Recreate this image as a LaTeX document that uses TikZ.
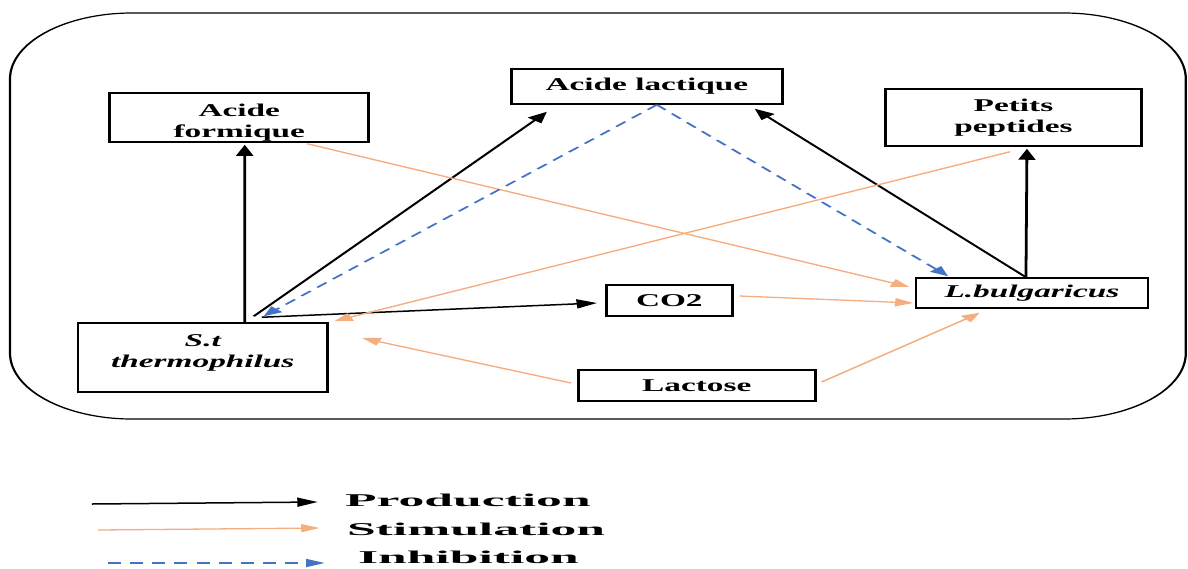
\documentclass[tikz,border=0pt]{standalone}
\usepackage{fontspec}
\setmainfont{Liberation Serif}
\newfontfamily\legendfont{Liberation Serif}[FakeStretch=1.55]
\usetikzlibrary{arrows.meta,calc}
\definecolor{stimorange}{HTML}{F4AE80}
\definecolor{inhibblue}{HTML}{4472C4}
\tikzset{
  box/.style={draw, line width=1.5pt, inner sep=0pt, align=center,
    font=\fontsize{18}{21}\selectfont\bfseries},
  boxit/.style={box, font=\fontsize{18}{21}\selectfont\bfseries\itshape},
  prod/.style={line width=1.5pt, -{Triangle[length=11pt,width=9pt]}},
  stim/.style={stimorange, line width=1.3pt, -{Triangle[length=10pt,width=8pt]}},
  inhib/.style={inhibblue, line width=1.4pt, dash pattern=on 7pt off 5pt,
    -{Triangle[length=10pt,width=8pt]}},
  legendtext/.style={anchor=base west, inner sep=0pt,
    font=\legendfont\fontsize{18}{21}\selectfont\bfseries}
}
\begin{document}
\begin{tikzpicture}
  \useasboundingbox (0,0) rectangle (1188pt,-568pt);
  \begin{scope}[x=0.54pt, y=-1pt, transform canvas={xscale=1.85}]
    % frame
    \draw[line width=1.2pt, rounded corners=66pt] (10,13) rectangle (1187,419);
    % boxes
    \node[box, minimum width=140pt, minimum height=49pt, text height=43pt] (formique) at (239.5,117.5) {Acide\\formique};
    \node[box, minimum width=146.5pt, minimum height=35pt] (lactique) at (647.5,86.5) {Acide lactique};
    \node[box, minimum width=138pt, minimum height=57pt] (peptides) at (1014.5,117.5) {Petits\\peptides};
    \node[boxit, minimum width=125.4pt, minimum height=30pt] (bulg) at (1033,293) {L.bulgaricus};
    \node[box, minimum width=68pt, minimum height=31pt] (co2) at (670,300.5) {CO2};
    \node[box, minimum width=128pt, minimum height=31pt] (lactose) at (697.5,385.5) {Lactose};
    \node[boxit, minimum width=135pt, minimum height=69pt, text depth=12pt] (st) at (203,357.5) {S.t\\thermophilus};
    \coordinate (btop) at ($(bulg.north)+(-6,0)$);
    \coordinate (lbot) at ($(lactique.south)+(10,0)$);
    % production
    \draw[prod] ($(st.north)+(42,0)$) -- ($(formique.south)+(5.5,2)$);
    \draw[prod] ($(st.north)+(51,-6)$) -- ($(lactique.south west)+(37,7)$);
    \draw[prod] ($(st.north)+(59,-5)$) -- ($(co2.west)+(-8,2.5)$);
    \draw[prod] (btop) -- ($(lactique.south east)+(-29,4)$);
    \draw[prod] (btop) -- ($(peptides.south)+(13.5,2)$);
    % stimulation
    \draw[stim] ($(formique.south east)+(-63,1)$) -- ($(bulg.west)+(-5,-6)$);
    \draw[stim] ($(peptides.south)+(-3.5,5)$) -- ($(st.north east)+(5,-1)$);
    \draw[stim] ($(co2.east)+(6,-4.5)$) -- ($(bulg.west)+(-1,10)$);
    \draw[stim] ($(lactose.west)+(-6,-2.5)$) -- ($(st.east)+(33,-19.5)$);
    \draw[stim] ($(lactose.east)+(5,-3.5)$) -- ($(bulg.south)+(-52,4)$);
    % inhibition
    \draw[inhib] (lbot) -- ($(st.north)+(61,-6)$);
    \draw[inhib] (lbot) -- ($(bulg.north)+(-84,-1)$);
    % legend
    \coordinate (p1) at (92,504);  \coordinate (p2) at (318,502);
    \coordinate (s1) at (98,530);  \coordinate (s2) at (320,528);
    \coordinate (i1) at (108,563); \coordinate (i2) at (325,563);
    \draw[prod] (p1) -- (p2);
    \draw[stim] (s1) -- (s2);
    \draw[inhib] (i1) -- (i2);
    \node[legendtext] (lprod) at (345,506) {Production};
    \node[legendtext] (lstim) at (347,535) {Stimulation};
    \node[legendtext] (linhib) at (358,563) {Inhibition};
  \end{scope}
\end{tikzpicture}
\end{document}
